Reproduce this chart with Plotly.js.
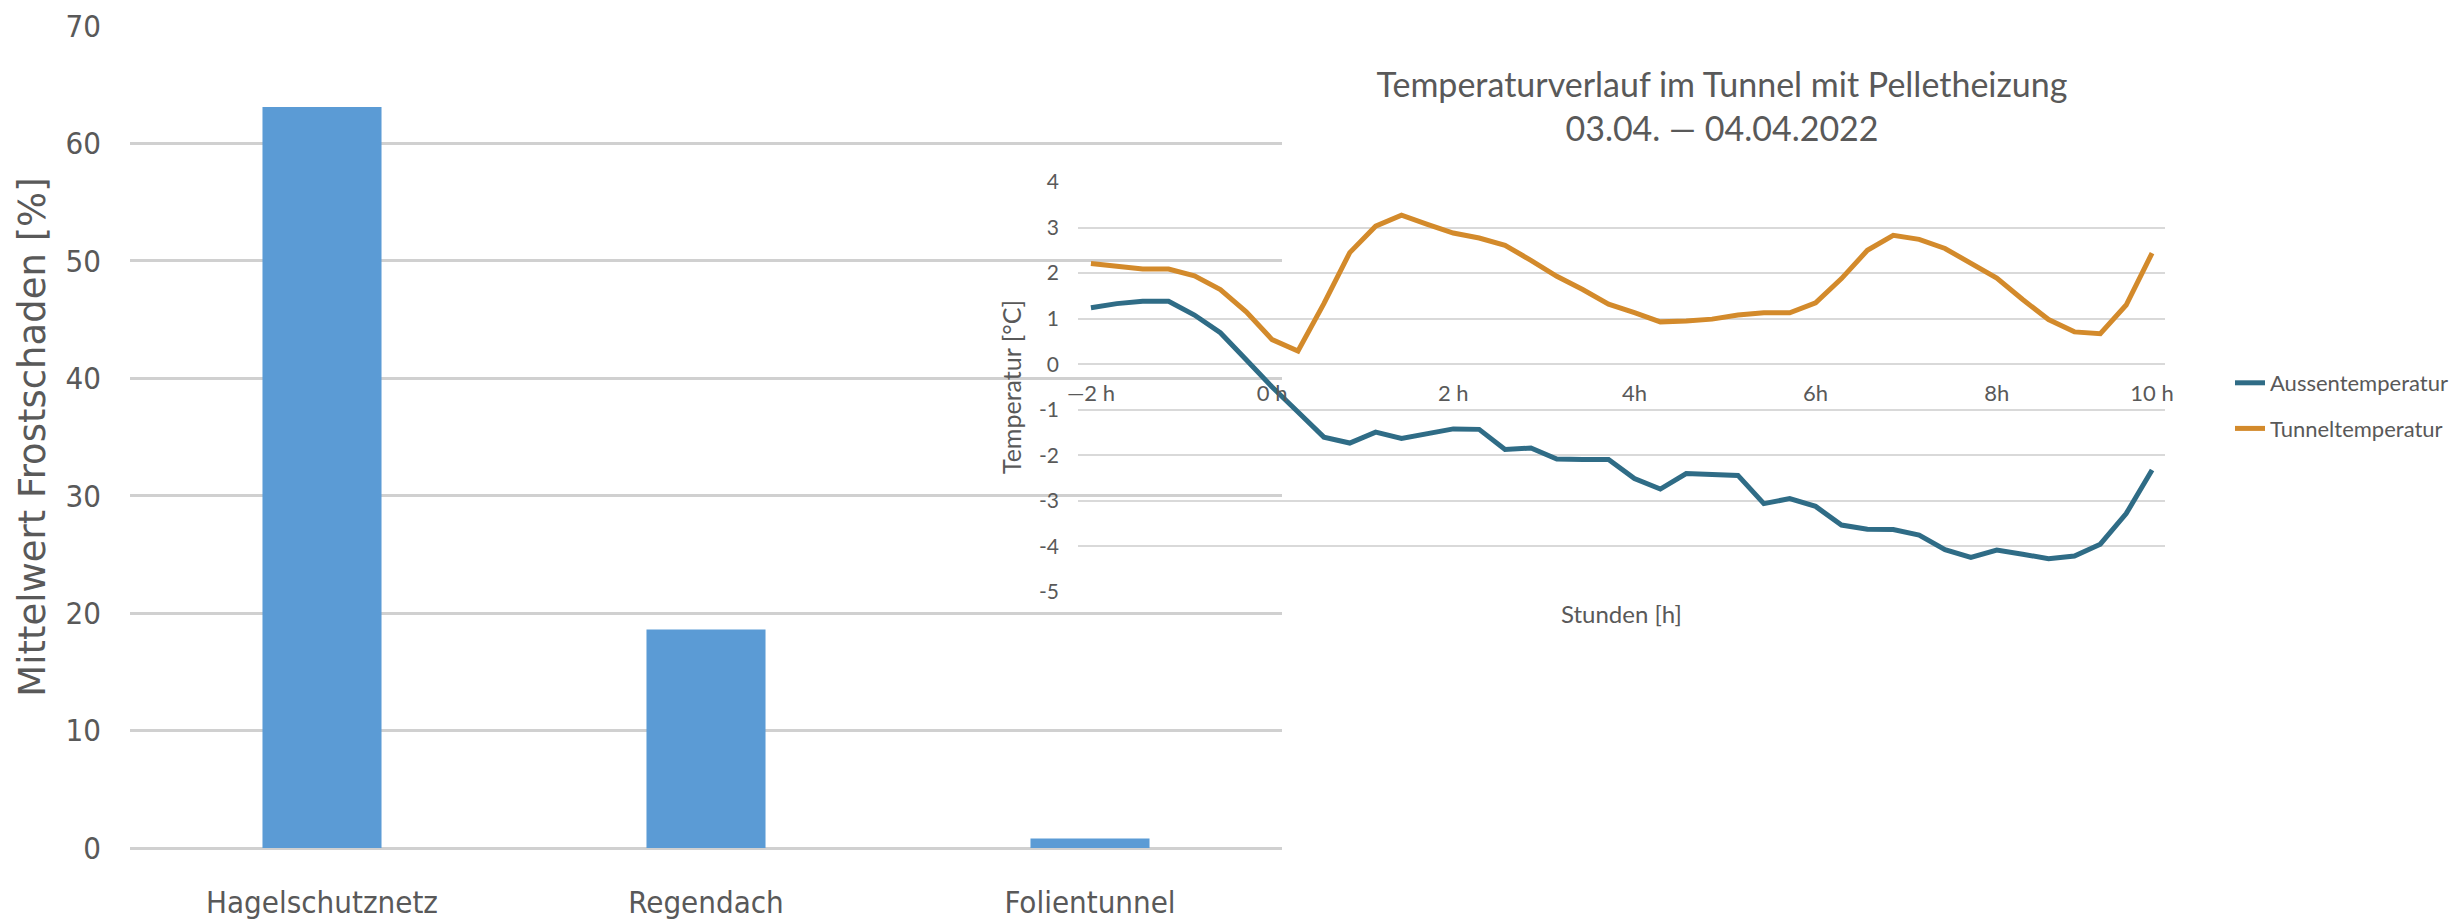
<!DOCTYPE html>
<html><head><meta charset="utf-8">
<script src="https://cdn.plot.ly/plotly-3.0.1.min.js"></script>
<style>html,body{margin:0;padding:0;background:#fff}#chart{width:2461px;height:922px}</style>
</head><body><div id="chart"></div>
<script>
// ---- Bar chart data ----
const barCategories = ['Hagelschutznetz', 'Regendach', 'Folientunnel'];
const barValues = [63.1, 18.6, 0.8];
const barYTickVals = [0, 10, 20, 30, 40, 50, 60, 70];

// ---- Line chart data ----
const timeIndex = [0,1,2,3,4,5,6,7,8,9,10,11,12,13,14,15,16,17,18,19,20,21,22,23,24,25,26,27,28,29,30,31,32,33,34,35,36,37,38,39,40,41];
const aussentemperatur = [1.24,1.33,1.38,1.38,1.08,0.69,0.10,-0.50,-1.05,-1.60,-1.73,-1.49,-1.63,-1.52,-1.42,-1.43,-1.87,-1.84,-2.08,-2.09,-2.09,-2.51,-2.74,-2.40,-2.42,-2.44,-3.06,-2.95,-3.12,-3.53,-3.62,-3.63,-3.75,-4.07,-4.24,-4.08,-4.17,-4.27,-4.21,-3.95,-3.28,-2.32];
const tunneltemperatur = [2.21,2.14,2.09,2.09,1.94,1.64,1.15,0.54,0.29,1.33,2.45,3.03,3.27,3.07,2.88,2.77,2.61,2.28,1.93,1.64,1.32,1.13,0.93,0.95,0.99,1.08,1.13,1.13,1.35,1.88,2.50,2.83,2.74,2.54,2.23,1.89,1.42,0.98,0.71,0.67,1.30,2.44];
const hourTickVals = [0, 7, 14, 21, 28, 35, 41];
const hourTickText = ['\u20142 h', '0 h', '2 h', '4h', '6h', '8h', '10 h'];
const tempTickVals = [4, 3, 2, 1, 0, -1, -2, -3, -4, -5];
const tempTickText = ['4', '3', '2', '1', '0', '-1', '-2', '-3', '-4', '-5'];

const W = 2461, H = 922;
const narrow = '"Liberation Sans Narrow", "DejaVu Sans Condensed", "Arial Narrow", "Liberation Sans", sans-serif';
const gill = 'Lato, "Open Sans", sans-serif';
const txt = '#595959';

const y2Range = [-5, 4];
const y2Domain = [1 - 592 / H, 1 - 182 / H];
const zeroPos = y2Domain[0] + (0 - y2Range[0]) / (y2Range[1] - y2Range[0]) * (y2Domain[1] - y2Domain[0]);

const traces = [
  {
    type: 'bar', x: barCategories, y: barValues, xaxis: 'x', yaxis: 'y',
    marker: {color: '#5B9BD5'}, showlegend: false, hoverinfo: 'x+y'
  },
  {
    type: 'scatter', mode: 'lines', name: 'Aussentemperatur', x: timeIndex, y: aussentemperatur,
    xaxis: 'x2', yaxis: 'y2', line: {color: '#2F6C86', width: 5}, legendgroup: 'a'
  },
  {
    type: 'scatter', mode: 'lines', name: 'Tunneltemperatur', x: timeIndex, y: tunneltemperatur,
    xaxis: 'x2', yaxis: 'y2', line: {color: '#D38A2B', width: 5}, legendgroup: 'b'
  }
];

const layout = {
  width: W, height: H,
  margin: {l: 0, r: 0, t: 0, b: 0},
  paper_bgcolor: '#fff', plot_bgcolor: 'rgba(0,0,0,0)',
  bargap: 0.69,
  title: {
    text: 'Temperaturverlauf im Tunnel mit Pelletheizung<br>03.04. \u2014 04.04.2022',
    x: 1722 / W, xanchor: 'center', xref: 'paper',
    y: 1 - 97 / H, yanchor: 'middle', yref: 'paper',
    font: {family: gill, size: 34, color: txt}
  },
  xaxis: {
    domain: [130 / W, 1282 / W], anchor: 'y',
    showgrid: false, zeroline: false, showline: false, ticks: '',
    tickfont: {family: narrow, size: 31, color: txt},
    ticklabelstandoff: 33
  },
  yaxis: {
    domain: [1 - 848 / H, 1 - 26 / H], anchor: 'x',
    range: [0, 70], tickvals: barYTickVals,
    showgrid: true, gridcolor: '#D0D0D0', gridwidth: 3,
    zeroline: true, zerolinecolor: '#D0D0D0', zerolinewidth: 3,
    showline: false, ticks: '',
    tickfont: {family: narrow, size: 31, color: txt},
    ticklabelstandoff: 28,
    title: {text: 'Mittelwert Frostschaden [%]', font: {family: '"DejaVu Sans", Verdana, sans-serif', size: 37, color: txt}, standoff: 8}
  },
  xaxis2: {
    domain: [1078 / W, 2165 / W], anchor: 'free', position: zeroPos,
    range: [-0.5, 41.5],
    tickvals: hourTickVals, ticktext: hourTickText,
    showgrid: false, zeroline: false, showline: false, ticks: '',
    tickfont: {family: gill, size: 22, color: txt},
    ticklabelstandoff: 14
  },
  yaxis2: {
    domain: y2Domain, anchor: 'x2',
    range: y2Range, tickvals: tempTickVals, ticktext: tempTickText,
    showgrid: true, gridcolor: '#D9D9D9', gridwidth: 2,
    zeroline: false, showline: false, ticks: '',
    tickfont: {family: gill, size: 21, color: txt},
    ticklabelstandoff: 18,
    title: {text: 'Temperatur [\u00B0C]', font: {family: gill, size: 25, color: txt}, standoff: 10}
  },
  annotations: [
    {
      text: 'Stunden [h]', xref: 'x2 domain', yref: 'paper', x: 0.5, y: 1 - 613 / H,
      xanchor: 'center', yanchor: 'middle', showarrow: false,
      font: {family: gill, size: 24, color: txt}
    }
  ],
  legend: {
    x: 2230 / W, xanchor: 'left', y: 1 - 362 / H, yanchor: 'top',
    bgcolor: 'rgba(0,0,0,0)', traceorder: 'grouped', tracegroupgap: 14,
    font: {family: gill, size: 22, color: txt}
  },
  showlegend: true
};

Plotly.newPlot('chart', traces, layout, {staticPlot: true, displayModeBar: false});
</script>
</body></html>
